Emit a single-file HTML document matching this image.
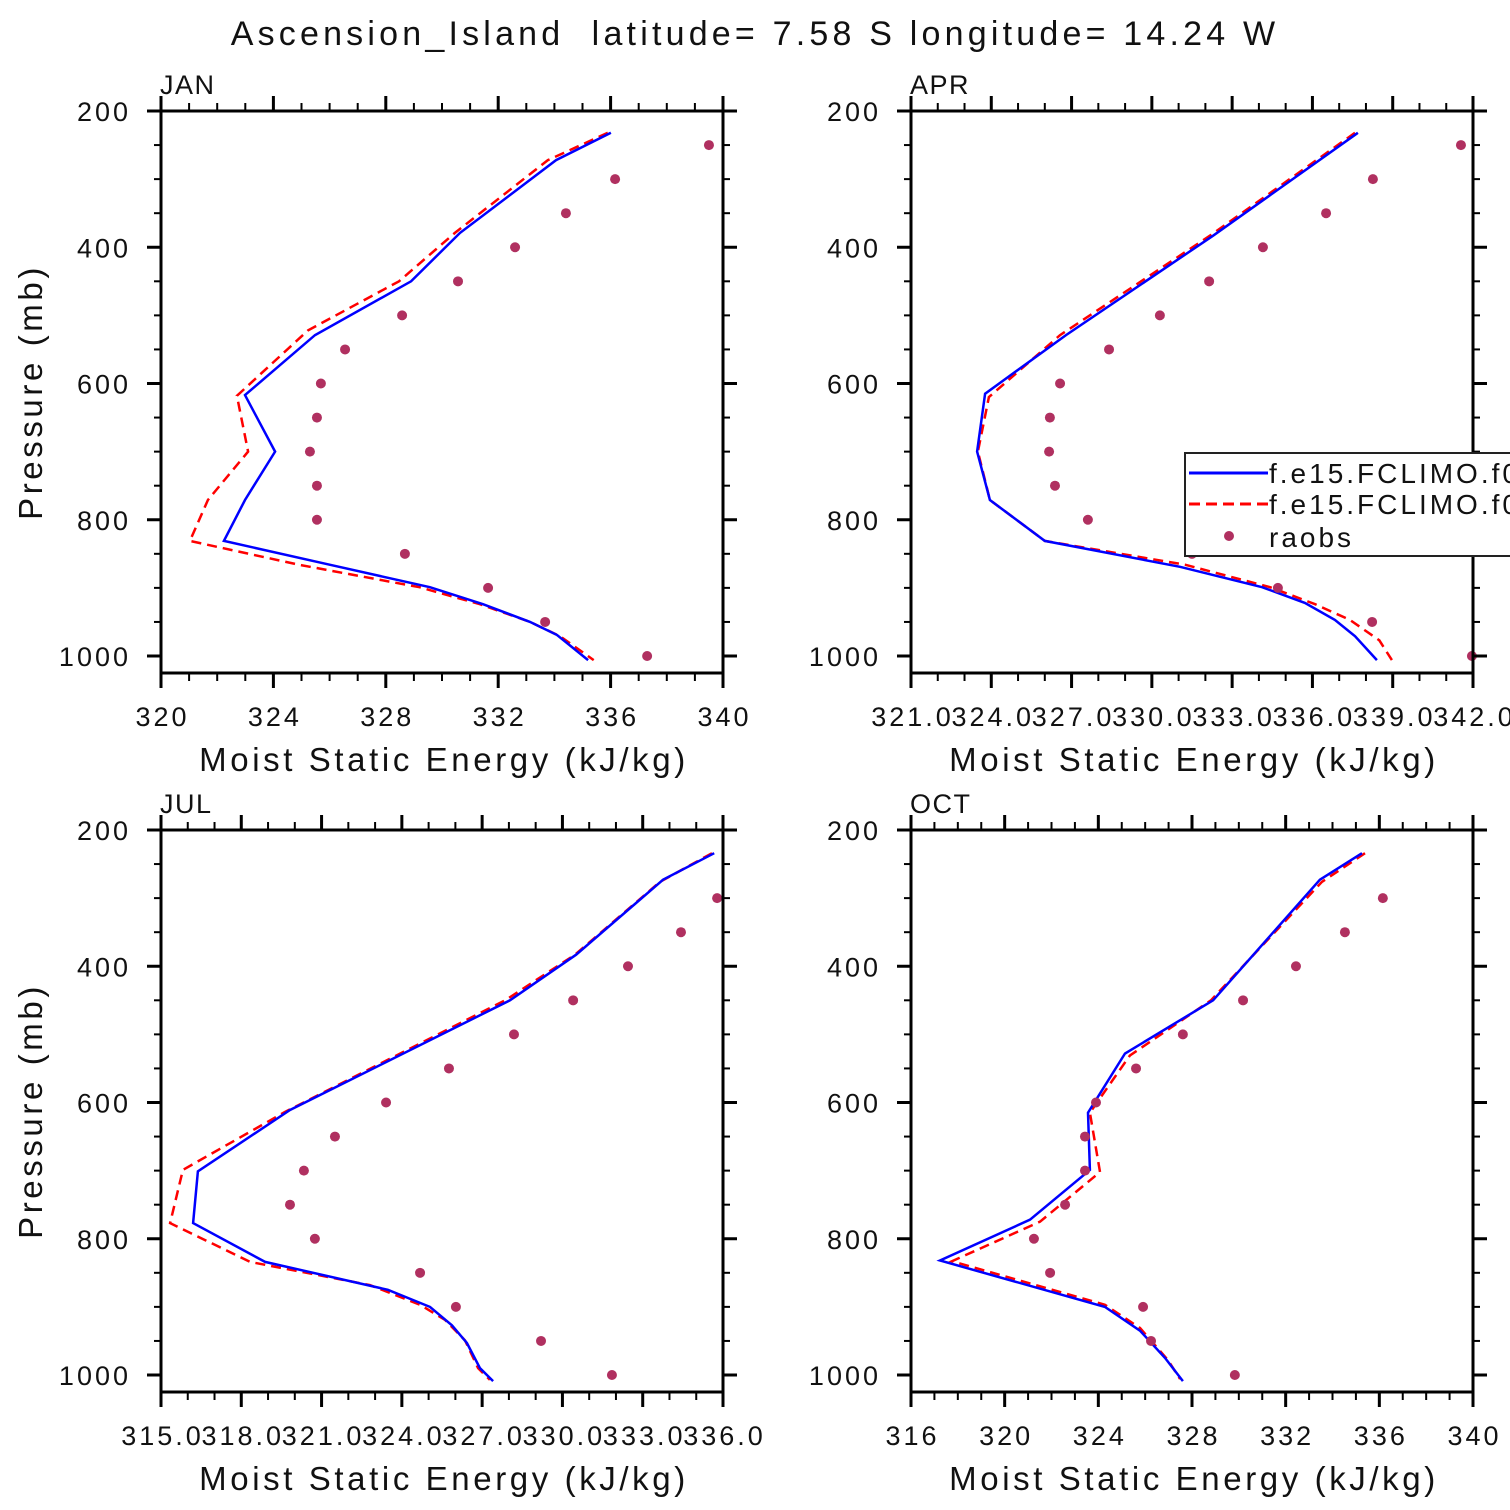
<!DOCTYPE html>
<html><head><meta charset="utf-8"><style>
html,body{margin:0;padding:0;background:#fff;}
svg{display:block;font-family:"Liberation Sans",sans-serif;}
text{white-space:pre;}
</style></head><body>
<svg id="chart" width="1510" height="1510" viewBox="0 0 1510 1510" xmlns="http://www.w3.org/2000/svg">
<text x="755" y="45" text-anchor="middle" font-size="34" fill="#111" letter-spacing="4.2">Ascension_Island  latitude= 7.58 S longitude= 14.24 W</text>
</svg>
<script>
// Pressure levels for observations
const obsP = [250,300,350,400,450,500,550,600,650,700,750,800,850,900,950,1000];
const julObsP = [300,350,400,450,500,550,600,650,700,750,800,850,900,950,1000];
// JAN
const janBlueX = [336.01,334.06,330.64,328.90,325.48,322.99,324.06,322.99,322.24,326.0,329.57,331.46,333.13,334.09,335.20];
const janBlueP = [232,272,379,450,529,617,700,771,831,866,899,924,950,969,1006];
const janRedX = [335.9,333.77,330.46,328.47,325.23,322.7,323.1,321.67,321.03,324.9,329.2,331.35,333.13,334.2,335.4];
const janRedP = [232,272,379,450,522,618,700,771,831,866,899,924,950,971,1006];
const janObs = [339.50,336.16,334.41,332.60,330.57,328.58,326.55,325.69,325.55,325.30,325.55,325.55,328.68,331.64,333.67,337.30];
// APR
const aprBlueX = [337.70,332.29,326.79,323.77,323.47,323.95,326.0,331.05,334.12,335.72,336.84,337.59,338.41];
const aprBlueP = [232,383,529,615,700,771,831,869,899,922,947,971,1006];
const aprRedX = [337.59,332.17,326.57,323.91,323.5,323.95,326.0,331.24,334.42,336.10,337.4,338.5,338.97];
const aprRedP = [232,383,529,620,700,771,831,866,899,924,947,977,1006];
const aprObs = [341.55,338.26,336.51,334.15,332.14,330.30,328.40,326.57,326.19,326.16,326.38,327.61,331.50,334.71,338.23,341.96];
// JUL
const julBlueX = [335.67,333.76,330.51,328.04,319.82,316.38,316.20,318.89,323.48,325.05,325.87,326.43,326.92,327.41];
const julBlueP = [234,273,383,450,611,701,777,834,875,900,927,953,990,1009];
const julRedX = [335.59,333.65,330.47,327.86,319.63,315.82,315.34,318.33,322.81,324.68,325.61,326.36,326.85,327.29];
const julRedP = [234,276,383,450,614,699,777,834,868,897,919,949,990,1007];
const julObs = [335.78,334.43,332.45,330.40,328.19,325.76,323.41,321.50,320.34,319.82,320.75,324.68,326.02,329.20,331.85];
// OCT
const octBlueX = [335.26,333.46,328.9,325.14,323.56,323.64,321.08,317.24,324.28,325.78,326.85,327.61];
const octBlueP = [234,273,450,528,615,699,772,832,900,935,975,1009];
const octRedX = [335.39,333.55,328.81,325.35,323.64,324.07,321.51,317.75,324.28,325.78,326.97,327.49];
const octRedP = [234,276,450,531,615,702,775,833,897,931,978,1006];
const octObs = [336.15,334.53,332.44,330.18,327.61,325.61,323.90,323.43,323.43,322.58,321.25,321.94,325.91,326.25,329.83];
// tick labels
const yTicks = [200,400,600,800,1000];
const janTicks = ["320","324","328","332","336","340"];
const aprTicks = ["321.0","324.0","327.0","330.0","333.0","336.0","339.0","342.0"];
const julTicks = ["315.0","318.0","321.0","324.0","327.0","330.0","333.0","336.0"];
const octTicks = ["316","320","324","328","332","336","340"];
const legendLabels = ["f.e15.FCLIMO.f09_f09","f.e15.FCLIMO.f09_f09","raobs"];

const svg = document.getElementById('chart');
const NS = 'http://www.w3.org/2000/svg';
function mk(tag, attrs, parent){const e=document.createElementNS(NS,tag);for(const k in attrs)e.setAttribute(k,attrs[k]);(parent||svg).appendChild(e);return e;}

function panel(cfg){
  const g = mk('g',{});
  
  
  const L=cfg.x0, R=cfg.x0+562, T=cfg.y0, B=cfg.y0+562;
  const sx = v => L + (v-cfg.xmin)/(cfg.xmax-cfg.xmin)*562;
  const sy = p => T + (p-200)*0.68125;
  const toPts=(xs,ps)=>xs.map((v,i)=>sx(v).toFixed(1)+','+sy(ps[i]).toFixed(1)).join(' ');
  const red=mk('polyline',{points:toPts(cfg.redX,cfg.redP),fill:'none',stroke:'#f00','stroke-width':2.5,'stroke-dasharray':'10,6'},g);
  
  
  const blue=mk('polyline',{points:toPts(cfg.blueX,cfg.blueP),fill:'none',stroke:'#00f','stroke-width':2.5},g);
  
  
  cfg.obs.forEach((v,i)=>{
    const c=mk('circle',{cx:sx(v),cy:sy(cfg.obsP[i]),r:5,fill:'#b03060'},g);
    
    
  });
  const fr=mk('rect',{x:L,y:T,width:562,height:562,fill:'none',stroke:'#000','stroke-width':3},g);
  
  
  for(let p=200;p<=1000;p+=50){
    const maj=(p%200===0), len=maj?14:7, y=sy(p);
    mk('line',{x1:L-len,y1:y,x2:L,y2:y,stroke:'#000','stroke-width':maj?3:2},g);
    mk('line',{x1:R,y1:y,x2:R+len,y2:y,stroke:'#000','stroke-width':maj?3:2},g);
  }
  yTicks.forEach(p=>{
    const t=mk('text',{x:L-30,y:sy(p)+10,'text-anchor':'end','font-size':27,fill:'#111','letter-spacing':3},g);
    t.textContent=p;
    
    
  });
  for(let v=cfg.xmin;v<=cfg.xmax+1e-6;v+=1){
    const maj=((v-cfg.xmin)%cfg.step===0), len=maj?15:8, x=sx(v);
    mk('line',{x1:x,y1:B,x2:x,y2:B+len,stroke:'#000','stroke-width':maj?3:2},g);
    mk('line',{x1:x,y1:T-len,x2:x,y2:T,stroke:'#000','stroke-width':maj?3:2},g);
  }
  cfg.ticks.forEach((s,i)=>{
    const t=mk('text',{x:sx(cfg.xmin+i*cfg.step)+1.5,y:B+53,'text-anchor':'middle','font-size':27,fill:'#111','letter-spacing':3},g);
    t.textContent=s;
    
    
  });
  const xt=mk('text',{x:L+283,y:B+98,'text-anchor':'middle','font-size':33,fill:'#111','letter-spacing':3.6},g);
  xt.textContent='Moist Static Energy (kJ/kg)';
  
  
  const mt=mk('text',{x:L-1,y:T-17,'font-size':27,fill:'#111','letter-spacing':1.5},g);
  mt.textContent=cfg.label;
  
  
  if(cfg.ytitle){
    const yt=mk('text',{x:0,y:0,'text-anchor':'middle','font-size':33,fill:'#111','letter-spacing':3.6,transform:`translate(42,${T+281}) rotate(-90)`},g);
    yt.textContent='Pressure (mb)';
    
    
  }
}
panel({name:'jan',label:'JAN',x0:161,y0:111,xmin:320,xmax:340,step:4,ticks:janTicks,blueX:janBlueX,blueP:janBlueP,redX:janRedX,redP:janRedP,obs:janObs,obsP:obsP,ytitle:true});
panel({name:'apr',label:'APR',x0:911,y0:111,xmin:321,xmax:342,step:3,ticks:aprTicks,blueX:aprBlueX,blueP:aprBlueP,redX:aprRedX,redP:aprRedP,obs:aprObs,obsP:obsP,ytitle:false});
panel({name:'jul',label:'JUL',x0:161,y0:830,xmin:315,xmax:336,step:3,ticks:julTicks,blueX:julBlueX,blueP:julBlueP,redX:julRedX,redP:julRedP,obs:julObs,obsP:julObsP,ytitle:true});
panel({name:'oct',label:'OCT',x0:911,y0:830,xmin:316,xmax:340,step:4,ticks:octTicks,blueX:octBlueX,blueP:octBlueP,redX:octRedX,redP:octRedP,obs:octObs,obsP:julObsP,ytitle:false});
const lg=mk('g',{});


mk('rect',{x:1185,y:453,width:340,height:103,fill:'#fff',stroke:'#222','stroke-width':2},lg);
mk('line',{x1:1189,y1:473,x2:1268,y2:473,stroke:'#00f','stroke-width':3},lg);
mk('line',{x1:1189,y1:504,x2:1268,y2:504,stroke:'#f00','stroke-width':3,'stroke-dasharray':'11,6'},lg);
mk('circle',{cx:1229,cy:536,r:5,fill:'#b03060'},lg);
[483,514,547].forEach((y,i)=>{
  const t=mk('text',{x:1269,y:y,'font-size':28,fill:'#111','letter-spacing':3},lg);
  t.textContent=legendLabels[i];
  
  
});
</script>
</body></html>
